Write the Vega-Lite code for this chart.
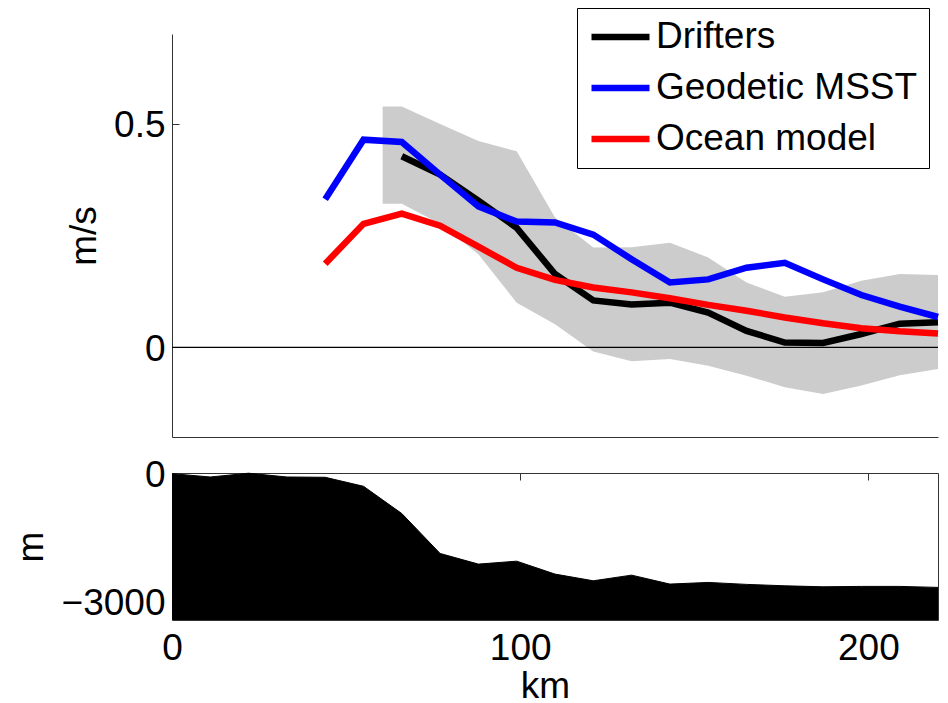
{
  "$schema": "https://vega.github.io/schema/vega-lite/v6.json",
  "padding": {"left": 12, "top": 7, "right": 0, "bottom": 0},
  "background": "white",
  "config": {
    "view": {"stroke": null},
    "font": "Liberation Sans",
    "axis": {
      "labelFont": "Liberation Sans", "labelFontSize": 37, "labelColor": "black",
      "titleFont": "Liberation Sans", "titleFontSize": 37, "titleColor": "black", "titleFontWeight": "normal",
      "domainColor": "#333333", "domainWidth": 1, "tickColor": "#333333", "grid": false,
      "labelFlush": false, "labelOverlap": false
    }
  },
  "datasets": {
    "band": [
      {"km": 60.5, "lower": 0.321, "upper": 0.538},
      {"km": 66, "lower": 0.321, "upper": 0.538},
      {"km": 77, "lower": 0.276, "upper": 0.499},
      {"km": 88, "lower": 0.208, "upper": 0.461},
      {"km": 99, "lower": 0.100, "upper": 0.438},
      {"km": 110, "lower": 0.052, "upper": 0.290},
      {"km": 121, "lower": -0.009, "upper": 0.223},
      {"km": 132, "lower": -0.031, "upper": 0.224},
      {"km": 143, "lower": -0.026, "upper": 0.234},
      {"km": 154, "lower": -0.041, "upper": 0.201},
      {"km": 165, "lower": -0.063, "upper": 0.145},
      {"km": 176, "lower": -0.089, "upper": 0.113},
      {"km": 187, "lower": -0.104, "upper": 0.123},
      {"km": 198, "lower": -0.085, "upper": 0.149},
      {"km": 209, "lower": -0.062, "upper": 0.164},
      {"km": 220, "lower": -0.048, "upper": 0.162}
    ],
    "speed": [
      {"series": "Drifters", "km": 66, "v": 0.427},
      {"series": "Drifters", "km": 77, "v": 0.386},
      {"series": "Drifters", "km": 88, "v": 0.328},
      {"series": "Drifters", "km": 99, "v": 0.267},
      {"series": "Drifters", "km": 110, "v": 0.164},
      {"series": "Drifters", "km": 121, "v": 0.105},
      {"series": "Drifters", "km": 132, "v": 0.096},
      {"series": "Drifters", "km": 143, "v": 0.100},
      {"series": "Drifters", "km": 154, "v": 0.078},
      {"series": "Drifters", "km": 165, "v": 0.037},
      {"series": "Drifters", "km": 176, "v": 0.011},
      {"series": "Drifters", "km": 187, "v": 0.010},
      {"series": "Drifters", "km": 198, "v": 0.030},
      {"series": "Drifters", "km": 209, "v": 0.053},
      {"series": "Drifters", "km": 220, "v": 0.056},
      {"series": "Geodetic MSST", "km": 44, "v": 0.331},
      {"series": "Geodetic MSST", "km": 55, "v": 0.464},
      {"series": "Geodetic MSST", "km": 66, "v": 0.459},
      {"series": "Geodetic MSST", "km": 77, "v": 0.386},
      {"series": "Geodetic MSST", "km": 88, "v": 0.315},
      {"series": "Geodetic MSST", "km": 99, "v": 0.281},
      {"series": "Geodetic MSST", "km": 110, "v": 0.279},
      {"series": "Geodetic MSST", "km": 121, "v": 0.252},
      {"series": "Geodetic MSST", "km": 132, "v": 0.197},
      {"series": "Geodetic MSST", "km": 143, "v": 0.145},
      {"series": "Geodetic MSST", "km": 154, "v": 0.152},
      {"series": "Geodetic MSST", "km": 165, "v": 0.178},
      {"series": "Geodetic MSST", "km": 176, "v": 0.189},
      {"series": "Geodetic MSST", "km": 187, "v": 0.152},
      {"series": "Geodetic MSST", "km": 198, "v": 0.117},
      {"series": "Geodetic MSST", "km": 209, "v": 0.091},
      {"series": "Geodetic MSST", "km": 220, "v": 0.068},
      {"series": "Ocean model", "km": 44, "v": 0.187},
      {"series": "Ocean model", "km": 55, "v": 0.276},
      {"series": "Ocean model", "km": 66, "v": 0.299},
      {"series": "Ocean model", "km": 77, "v": 0.272},
      {"series": "Ocean model", "km": 88, "v": 0.225},
      {"series": "Ocean model", "km": 99, "v": 0.178},
      {"series": "Ocean model", "km": 110, "v": 0.151},
      {"series": "Ocean model", "km": 121, "v": 0.134},
      {"series": "Ocean model", "km": 132, "v": 0.123},
      {"series": "Ocean model", "km": 143, "v": 0.110},
      {"series": "Ocean model", "km": 154, "v": 0.095},
      {"series": "Ocean model", "km": 165, "v": 0.082},
      {"series": "Ocean model", "km": 176, "v": 0.067},
      {"series": "Ocean model", "km": 187, "v": 0.054},
      {"series": "Ocean model", "km": 198, "v": 0.043},
      {"series": "Ocean model", "km": 209, "v": 0.036},
      {"series": "Ocean model", "km": 220, "v": 0.031}
    ],
    "bathy": [
      {"km": 0, "depth": -15},
      {"km": 11, "depth": -93},
      {"km": 22, "depth": -5},
      {"km": 33, "depth": -93},
      {"km": 44, "depth": -100},
      {"km": 55, "depth": -310},
      {"km": 66, "depth": -946},
      {"km": 77, "depth": -1877},
      {"km": 88, "depth": -2126},
      {"km": 99, "depth": -2057},
      {"km": 110, "depth": -2359},
      {"km": 121, "depth": -2515},
      {"km": 132, "depth": -2383},
      {"km": 143, "depth": -2592},
      {"km": 154, "depth": -2553},
      {"km": 165, "depth": -2599},
      {"km": 176, "depth": -2632},
      {"km": 187, "depth": -2655},
      {"km": 198, "depth": -2646},
      {"km": 209, "depth": -2646},
      {"km": 220, "depth": -2669}
    ]
  },
  "spacing": 19,
  "resolve": {"scale": {"color": "independent"}, "legend": {"color": "independent"}},
  "vconcat": [
    {
      "width": 766,
      "height": 403,
      "layer": [
        {
          "data": {"name": "band"},
          "mark": {"type": "area", "color": "#cccccc", "opacity": 1},
          "encoding": {
            "x": {"field": "km", "type": "quantitative", "scale": {"domain": [0, 220], "nice": false, "zero": false},
                  "axis": {"orient": "bottom", "ticks": false, "labels": false, "title": null, "domain": true}},
            "y": {"field": "lower", "type": "quantitative", "scale": {"domain": [-0.2, 0.7], "nice": false, "zero": false},
                  "axis": {"orient": "left", "values": [0, 0.5], "format": ".1~f", "tickSize": -7, "labelPadding": 14, "labelOffset": 2,
                           "title": "m/s", "titleX": -77, "titleBaseline": "alphabetic"}},
            "y2": {"field": "upper"}
          }
        },
        {
          "data": {"values": [{}]},
          "mark": {"type": "rule", "color": "black", "strokeWidth": 1.2},
          "encoding": {"y": {"datum": 0, "type": "quantitative",
                  "axis": {"orient": "left", "values": [0, 0.5], "format": ".1~f", "tickSize": -7, "labelPadding": 14, "labelOffset": 2,
                           "title": "m/s", "titleX": -77, "titleBaseline": "alphabetic"}}}
        },
        {
          "data": {"name": "speed"},
          "mark": {"type": "line", "strokeWidth": 6.5, "strokeCap": "butt", "strokeJoin": "miter"},
          "encoding": {
            "x": {"field": "km", "type": "quantitative",
                  "axis": {"orient": "bottom", "ticks": false, "labels": false, "title": null, "domain": true}},
            "y": {"field": "v", "type": "quantitative",
                  "axis": {"orient": "left", "values": [0, 0.5], "format": ".1~f", "tickSize": -7, "labelPadding": 14, "labelOffset": 2,
                           "title": "m/s", "titleX": -77, "titleBaseline": "alphabetic"}},
            "color": {
              "field": "series", "type": "nominal",
              "scale": {"domain": ["Drifters", "Geodetic MSST", "Ocean model"], "range": ["#000000", "#0000ff", "#ff0000"]},
              "legend": {
                "title": null, "orient": "none", "legendX": 405, "legendY": -26,
                "symbolType": "stroke", "symbolSize": 3364, "symbolStrokeWidth": 6.5,
                "labelFontSize": 37, "labelFont": "Liberation Sans", "labelColor": "black", "labelOffset": 3, "labelLimit": 0,
                "strokeColor": "black", "fillColor": "white", "padding": 11, "rowPadding": 14, "clipHeight": 36
              }
            }
          }
        }
      ]
    },
    {
      "width": 766,
      "height": 147,
      "data": {"name": "bathy"},
      "layer": [
        {
          "mark": {"type": "area", "color": "black"},
          "encoding": {
            "x": {"field": "km", "type": "quantitative", "scale": {"domain": [0, 220], "nice": false, "zero": false},
                  "axis": {"orient": "bottom", "values": [0, 100, 200], "format": "d", "ticks": false, "labelPadding": 10,
                           "title": "km", "titleX": 373, "titleY": 77, "titleBaseline": "alphabetic", "titleAlign": "center"}},
            "y": {"field": "depth", "type": "quantitative", "stack": null, "scale": {"domain": [-3430, 0], "nice": false, "zero": false},
                  "axis": {"orient": "left", "values": [0, -3000], "format": "d", "tickSize": -7, "labelPadding": 14, "labelOffset": 2,
                           "title": "m", "titleX": -130, "titleBaseline": "alphabetic"}},
            "y2": {"datum": -3430}
          }
        },
        {
          "mark": {"type": "line", "color": "black", "strokeWidth": 1},
          "encoding": {
            "x": {"field": "km", "type": "quantitative",
                  "axis": {"orient": "top", "values": [100, 200], "tickSize": -7, "labels": false, "title": null}},
            "y": {"field": "depth", "type": "quantitative",
                  "axis": {"orient": "right", "ticks": false, "labels": false, "title": null}}
          }
        }
      ]
    }
  ]
}
